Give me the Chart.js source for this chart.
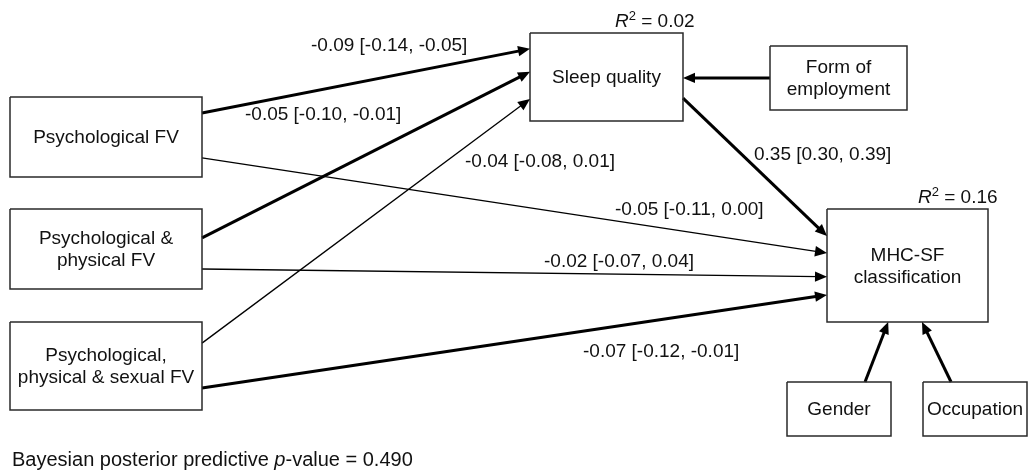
<!DOCTYPE html>
<html>
<head>
<meta charset="utf-8">
<script src="https://cdn.jsdelivr.net/npm/chart.js@4"></script>
<style>
  body { margin: 0; background: #fff; }
  #wrap { width: 1032px; height: 472px; position: relative; }
</style>
</head>
<body>
<div id="wrap"><canvas id="pathChart"></canvas></div>
<script>
// Model variables
const nodeIds = ['psy', 'psyPhy', 'psyPhySex', 'sleep', 'form', 'mhc', 'gender', 'occ'];
const nodeLabels = ['Psychological FV', 'Psychological &\nphysical FV', 'Psychological,\nphysical & sexual FV',
  'Sleep quality', 'Form of\nemployment', 'MHC-SF\nclassification', 'Gender', 'Occupation'];

// Structural paths: estimate [95% CI]
const pathFrom = ['psy', 'psyPhy', 'psyPhySex', 'psy', 'psyPhy', 'psyPhySex', 'sleep'];
const pathTo = ['sleep', 'sleep', 'sleep', 'mhc', 'mhc', 'mhc', 'mhc'];
const estimates = [-0.09, -0.05, -0.04, -0.05, -0.02, -0.07, 0.35];
const ciLower = [-0.14, -0.10, -0.08, -0.11, -0.07, -0.12, 0.30];
const ciUpper = [-0.05, -0.01, 0.01, 0.00, 0.04, -0.01, 0.39];

// Covariates (no labels)
const covFrom = ['form', 'gender', 'occ'];
const covTo = ['sleep', 'mhc', 'mhc'];

// Explained variance + fit
const r2Nodes = ['sleep', 'mhc'];
const r2Values = [0.02, 0.16];
const pppValue = 0.490;

// ---- layout (pixels of the 1032x472 page) ----
const boxes = {
  psy: [10, 97, 202, 177],
  psyPhy: [10, 209, 202, 289],
  psyPhySex: [10, 322, 202, 410],
  sleep: [530, 33, 683, 121],
  form: [770, 46, 907, 110],
  mhc: [827, 209, 988, 322],
  gender: [787, 382, 891, 436],
  occ: [923, 382, 1027, 436],
};
const pathAnchors = [
  ['right', 0.20, 'left', 0.18],
  ['right', 0.36, 'left', 0.44],
  ['right', 0.24, 'left', 0.75],
  ['right', 0.76, 'left', 0.39],
  ['right', 0.75, 'left', 0.60],
  ['right', 0.75, 'left', 0.76],
  ['right', 0.74, 'left', 0.24],
];
const covAnchors = [
  ['left', 0.5, 'right', 0.51],
  ['top', 0.75, 'bottom', 0.38],
  ['top', 0.27, 'bottom', 0.59],
];
// left edge / middle of each estimate label
const labelPos = [[311, 46], [245, 115], [465, 162], [615, 210], [544, 262], [583, 352], [754, 155]];
const r2Left = [615, 918];
const r2Y = [22, 198];

const FONT = '"Liberation Sans", Arial, Helvetica, sans-serif';
const fmt = v => v.toFixed(2);

function anchor(id, side, t) {
  const [x1, y1, x2, y2] = boxes[id];
  if (side === 'left') return { x: x1, y: y1 + t * (y2 - y1) };
  if (side === 'right') return { x: x2, y: y1 + t * (y2 - y1) };
  if (side === 'top') return { x: x1 + t * (x2 - x1), y: y1 };
  return { x: x1 + t * (x2 - x1), y: y2 };
}

function arrowDataset(from, to, a, width) {
  const p0 = anchor(from, a[0], a[1]);
  const tip = anchor(to, a[2], a[3]);
  const dx = tip.x - p0.x, dy = tip.y - p0.y;
  const len = Math.hypot(dx, dy);
  const end = { x: tip.x - dx / len * 8, y: tip.y - dy / len * 8 };
  return {
    data: [p0, end],
    arrowTip: tip,
    showLine: true,
    borderColor: '#000',
    borderWidth: width,
    pointRadius: 0,
    clip: false,
  };
}

const datasets = [];

// boxes
nodeIds.forEach(id => {
  const [x1, y1, x2, y2] = boxes[id];
  datasets.push({
    data: [{ x: x1, y: y1 }, { x: x2, y: y1 }, { x: x2, y: y2 }, { x: x1, y: y2 }, { x: x1, y: y1 }],
    showLine: true,
    borderColor: '#2a2a2a',
    borderWidth: 1.5,
    pointRadius: 0,
    clip: false,
  });
});

// structural paths, thick when CI excludes zero
pathFrom.forEach((f, i) => {
  const sig = ciUpper[i] < 0 || ciLower[i] > 0;
  datasets.push(arrowDataset(f, pathTo[i], pathAnchors[i], sig ? 3 : 1.3));
});
covFrom.forEach((f, i) => {
  datasets.push(arrowDataset(f, covTo[i], covAnchors[i], 3));
});

const diagramPlugin = {
  id: 'diagram',
  afterDatasetsDraw(chart) {
    const ctx = chart.ctx;
    const xs = chart.scales.x, ys = chart.scales.y;
    const px = v => xs.getPixelForValue(v);
    const py = v => ys.getPixelForValue(v);
    ctx.save();

    // arrowheads
    chart.data.datasets.forEach(ds => {
      if (!ds.arrowTip) return;
      const tx = px(ds.arrowTip.x), ty = py(ds.arrowTip.y);
      const sx = px(ds.data[0].x), sy = py(ds.data[0].y);
      const ang = Math.atan2(ty - sy, tx - sx);
      const L = 12, W = 5.2;
      ctx.beginPath();
      ctx.moveTo(tx, ty);
      ctx.lineTo(tx - L * Math.cos(ang) + W * Math.sin(ang), ty - L * Math.sin(ang) - W * Math.cos(ang));
      ctx.lineTo(tx - L * Math.cos(ang) - W * Math.sin(ang), ty - L * Math.sin(ang) + W * Math.cos(ang));
      ctx.closePath();
      ctx.fillStyle = '#000';
      ctx.fill();
    });

    ctx.fillStyle = '#111';
    ctx.textBaseline = 'middle';

    // node labels
    ctx.textAlign = 'center';
    ctx.font = '19px ' + FONT;
    nodeIds.forEach((id, i) => {
      const [x1, y1, x2, y2] = boxes[id];
      const lines = nodeLabels[i].split('\n');
      const cx = px((x1 + x2) / 2), cy = py((y1 + y2) / 2) + 1;
      lines.forEach((ln, k) => {
        ctx.fillText(ln, cx, cy + (k - (lines.length - 1) / 2) * 22);
      });
    });

    // path estimates
    ctx.textAlign = 'left';
    ctx.font = '19px ' + FONT;
    estimates.forEach((e, i) => {
      const txt = `${fmt(e)} [${fmt(ciLower[i])}, ${fmt(ciUpper[i])}]`;
      ctx.fillText(txt, px(labelPos[i][0]), py(labelPos[i][1]));
    });

    // R^2
    r2Nodes.forEach((id, i) => {
      let x = px(r2Left[i]);
      const y = py(r2Y[i]);
      ctx.font = 'italic 19px ' + FONT;
      ctx.fillText('R', x, y);
      x += ctx.measureText('R').width;
      ctx.font = '13px ' + FONT;
      ctx.fillText('2', x, y - 6);
      x += ctx.measureText('2').width;
      ctx.font = '19px ' + FONT;
      ctx.fillText(' = ' + fmt(r2Values[i]), x, y);
    });

    // fit footnote
    let fx = px(12);
    const fy = py(460);
    ctx.font = '20px ' + FONT;
    ctx.fillText('Bayesian posterior predictive ', fx, fy);
    fx += ctx.measureText('Bayesian posterior predictive ').width;
    ctx.font = 'italic 20px ' + FONT;
    ctx.fillText('p', fx, fy);
    fx += ctx.measureText('p').width;
    ctx.font = '20px ' + FONT;
    ctx.fillText('-value = ' + pppValue.toFixed(3), fx, fy);

    ctx.restore();
  },
};

new Chart(document.getElementById('pathChart'), {
  type: 'scatter',
  data: { datasets },
  options: {
    responsive: true,
    maintainAspectRatio: false,
    animation: false,
    layout: { padding: 0 },
    scales: {
      x: { type: 'linear', min: 0, max: 1032, display: false },
      y: { type: 'linear', min: 0, max: 472, reverse: true, display: false },
    },
    plugins: {
      legend: { display: false },
      tooltip: { enabled: false },
    },
  },
  plugins: [diagramPlugin],
});
</script>
</body>
</html>
